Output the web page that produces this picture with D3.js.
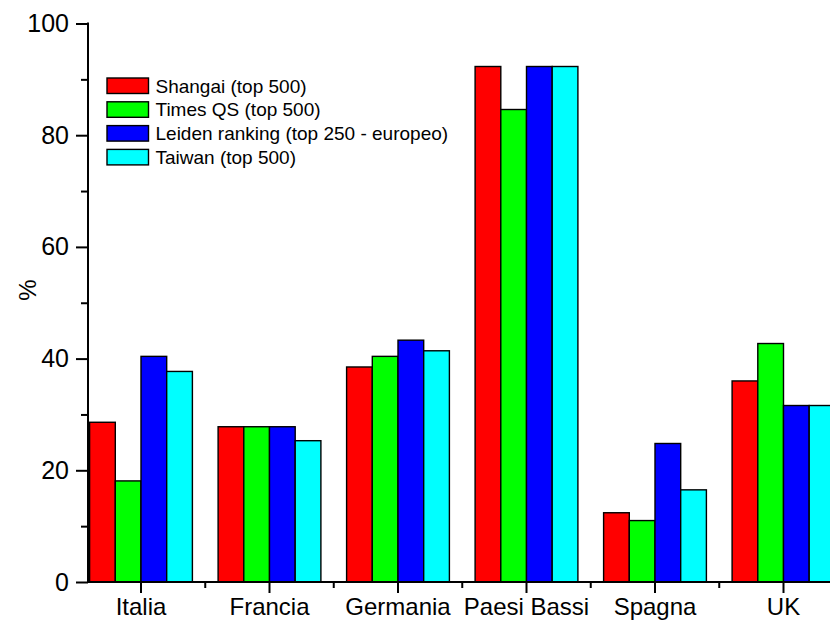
<!DOCTYPE html>
<html>
<head>
<meta charset="utf-8">
<script src="https://cdn.jsdelivr.net/npm/d3@7"></script>
<style>
  html, body { margin: 0; padding: 0; background: #fff; }
  svg { display: block; }
  text { font-family: "Liberation Sans", Arial, sans-serif; fill: #000; }
</style>
</head>
<body>
<svg id="chart" width="830" height="625"></svg>
<script>
const categories = ["Italia", "Francia", "Germania", "Paesi Bassi", "Spagna", "UK"];
const seriesNames = [
  "Shangai (top 500)",
  "Times QS (top 500)",
  "Leiden ranking (top 250 - europeo)",
  "Taiwan (top 500)"
];
const shangai = [28.6, 27.8, 38.5, 92.3, 12.4, 36.0];
const timesQS = [18.1, 27.8, 40.4, 84.6, 11.0, 42.7];
const leiden  = [40.4, 27.8, 43.3, 92.3, 24.8, 31.6];
const taiwan  = [37.7, 25.3, 41.4, 92.3, 16.5, 31.6];
const seriesValues = [shangai, timesQS, leiden, taiwan];
const colors = ["#ff0000", "#00ff00", "#0000ff", "#00ffff"];
const yMajorTicks = [0, 20, 40, 60, 80, 100];
const yMinorTicks = [10, 30, 50, 70, 90];
const yLabel = "%";

const svg = d3.select("#chart");

const axisX = 88;
const x0 = d3.scaleBand()
  .domain(categories)
  .range([76.75, 847.75])
  .paddingInner(0.2)
  .paddingOuter(0.1);
const x1 = d3.scaleBand()
  .domain(d3.range(seriesNames.length))
  .range([0, x0.bandwidth()]);
const y = d3.scaleLinear().domain([0, 100]).range([582, 23.5]);

// bars
const groups = svg.append("g").selectAll("g")
  .data(categories)
  .join("g")
  .attr("transform", c => `translate(${x0(c)},0)`);
groups.selectAll("rect")
  .data((c, ci) => seriesValues.map((vals, si) => ({ si, v: vals[ci] })))
  .join("rect")
  .attr("x", d => x1(d.si))
  .attr("y", d => y(d.v))
  .attr("width", x1.bandwidth())
  .attr("height", d => y(0) - y(d.v))
  .attr("fill", d => colors[d.si])
  .attr("stroke", "#000")
  .attr("stroke-width", 1.4);

// Y axis
const yAxisG = svg.append("g").attr("transform", `translate(${axisX},0)`);
yAxisG.call(d3.axisLeft(y).tickValues(yMajorTicks).tickSize(12).tickPadding(7).tickFormat(d3.format("d")));
yAxisG.select(".domain").remove();
yAxisG.selectAll(".tick line").attr("stroke", "#000").attr("stroke-width", 2);
yAxisG.selectAll(".tick text").style("font-size", "25px").attr("font-family", null);
const yMinorG = svg.append("g").attr("transform", `translate(${axisX},0)`);
yMinorG.call(d3.axisLeft(y).tickValues(yMinorTicks).tickSize(7).tickFormat(""));
yMinorG.select(".domain").remove();
yMinorG.selectAll(".tick line").attr("stroke", "#000").attr("stroke-width", 2);
svg.append("line")
  .attr("x1", axisX).attr("x2", axisX)
  .attr("y1", y(100) - 1).attr("y2", y(0) + 1)
  .attr("stroke", "#000").attr("stroke-width", 2);

// X axis
const xAxisG = svg.append("g").attr("transform", `translate(0,${y(0)})`);
xAxisG.call(d3.axisBottom(x0).tickSize(11).tickPadding(5));
xAxisG.select(".domain").remove();
xAxisG.selectAll(".tick line").attr("stroke", "#000").attr("stroke-width", 2);
xAxisG.selectAll(".tick text").style("font-size", "24px").attr("font-family", null);
// minor ticks at category boundaries
const boundaries = categories.slice(1).map(c => x0(c) - x0.step() * x0.paddingInner() / 2);
svg.append("g").selectAll("line")
  .data(boundaries)
  .join("line")
  .attr("x1", d => d).attr("x2", d => d)
  .attr("y1", y(0)).attr("y2", y(0) + 6)
  .attr("stroke", "#000").attr("stroke-width", 2);
svg.append("line")
  .attr("x1", axisX - 1).attr("x2", 830)
  .attr("y1", y(0)).attr("y2", y(0))
  .attr("stroke", "#000").attr("stroke-width", 2);

// Y label
svg.append("text")
  .attr("transform", `translate(27,290) rotate(-90)`)
  .attr("text-anchor", "middle")
  .attr("dominant-baseline", "central")
  .style("font-size", "24px")
  .text(yLabel);

// legend
const legend = svg.append("g").attr("transform", "translate(107,78)");
const rows = legend.selectAll("g")
  .data(seriesNames)
  .join("g")
  .attr("transform", (d, i) => `translate(0,${i * 23.8})`);
rows.append("rect")
  .attr("width", 41.5).attr("height", 15.5)
  .attr("fill", (d, i) => colors[i])
  .attr("stroke", "#000").attr("stroke-width", 1.4);
rows.append("text")
  .attr("x", 48.5).attr("y", 8)
  .attr("dominant-baseline", "central")
  .style("font-size", "19px")
  .text(d => d);
</script>
</body>
</html>
